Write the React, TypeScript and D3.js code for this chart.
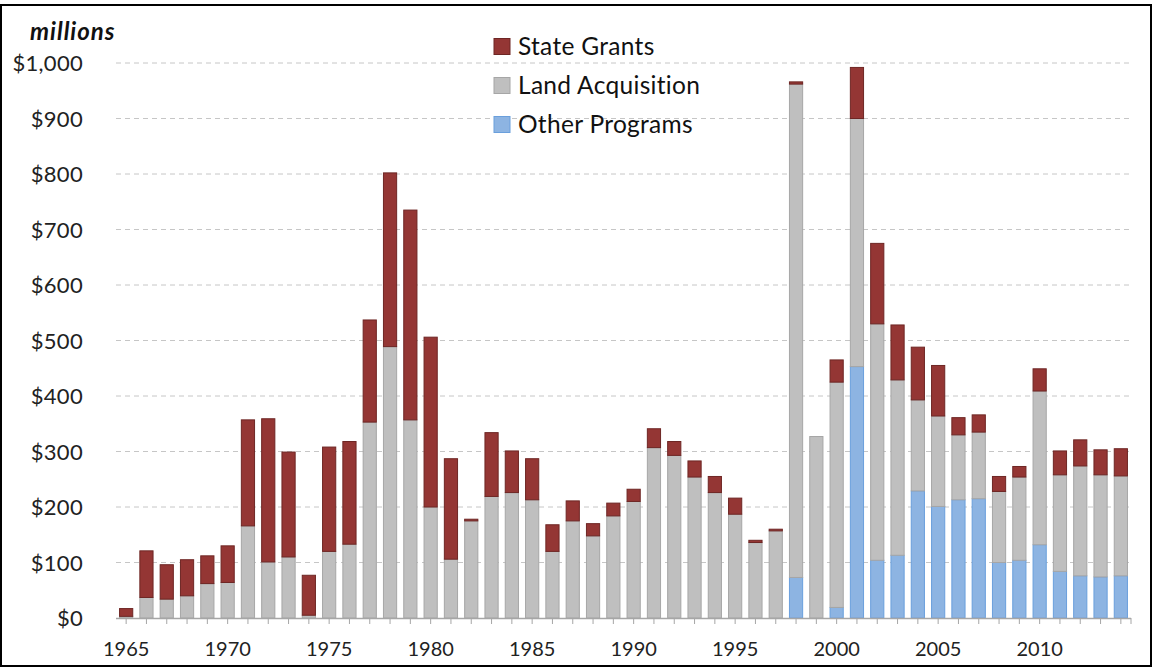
import React from 'react'
import * as d3 from 'd3'

// values in $ millions
const years = d3.range(1965, 2015)

const otherPrograms = [
  0, 0, 0, 0, 0, 0, 0, 0, 0, 0,
  0, 0, 0, 0, 0, 0, 0, 0, 0, 0,
  0, 0, 0, 0, 0, 0, 0, 0, 0, 0,
  0, 0, 0, 73, 0, 19, 453, 104, 113, 229,
  201, 213, 215, 100, 104, 132, 84, 76, 74, 76,
]

const landAcquisition = [
  3, 37, 34, 40, 62, 64, 166, 101, 110, 5,
  120, 133, 353, 489, 357, 200, 106, 175, 219, 226,
  213, 120, 175, 148, 184, 210, 307, 293, 254, 226,
  187, 136, 157, 889, 327, 406, 447, 426, 316, 164,
  163, 117, 120, 128, 150, 277, 174, 198, 184, 180,
]

const stateGrants = [
  14, 84, 62, 65, 50, 66, 191, 258, 189, 72,
  188, 185, 184, 313, 378, 306, 181, 3, 115, 75,
  74, 48, 36, 22, 23, 22, 34, 25, 29, 29,
  29, 4, 3, 4, 0, 40, 92, 145, 99, 95,
  91, 31, 31, 27, 19, 40, 43, 47, 45, 49,
]

const seriesNames = ['Other Programs', 'Land Acquisition', 'State Grants']
const yTicks = [0, 100, 200, 300, 400, 500, 600, 700, 800, 900, 1000]
const xLabels = [1965, 1970, 1975, 1980, 1985, 1990, 1995, 2000, 2005, 2010]

const fills = { 'Other Programs': '#8db4e2', 'Land Acquisition': '#bfbfbf', 'State Grants': '#943634' }
const strokes = { 'Other Programs': '#6a9fdc', 'Land Acquisition': '#a6a6a6', 'State Grants': '#6e2624' }

const font = 'Lato, "Open Sans", sans-serif'

export default function App() {
  const W = 1153, H = 668

  const rows = years.map((yr, i) => ({
    year: yr,
    'Other Programs': otherPrograms[i],
    'Land Acquisition': landAcquisition[i],
    'State Grants': stateGrants[i],
  }))

  const stacked = d3.stack().keys(seriesNames)(rows as any)

  const x = d3.scaleBand<number>()
    .domain(years)
    .range([116, 1131])
    .paddingInner(0.35)
    .paddingOuter(0.175)

  const y = d3.scaleLinear().domain([0, 1000]).range([618, 63])
  const fmt = d3.format('$,')

  // legend order top to bottom
  const legend = ['State Grants', 'Land Acquisition', 'Other Programs']

  return (
    <svg width={W} height={H} style={{ position: 'absolute', left: 0, top: 0, background: '#fff' }}
      fontFamily={font}>
      <rect x={0} y={0} width={W} height={H} fill="#fff" />

      {/* gridlines */}
      {yTicks.filter(t => t > 0).map(t => (
        <line key={t} x1={116} x2={1131} y1={y(t)} y2={y(t)}
          stroke="#c6c6c6" strokeWidth={1} strokeDasharray="5,4" />
      ))}

      {/* y labels */}
      {yTicks.map(t => (
        <text key={t} x={83} y={y(t) + 8} textAnchor="end" fontSize={22} fill="#222" letterSpacing={0.3}>
          {fmt(t)}
        </text>
      ))}
      <text x={30} y={40} fontSize={24} fontWeight="bold" fontStyle="italic" fill="#111" letterSpacing={1}>millions</text>

      {/* bars */}
      {stacked.map(s => (
        <g key={s.key}>
          {s.map((d, i) => {
            const h = y(d[0]) - y(d[1])
            if (h <= 0) return null
            return (
              <rect key={i} x={x(years[i])} y={y(d[1])} width={x.bandwidth()} height={h}
                fill={fills[s.key]} stroke={strokes[s.key]} strokeWidth={1} />
            )
          })}
        </g>
      ))}

      {/* x axis */}
      <line x1={116} x2={1131} y1={618.5} y2={618.5} stroke="#a6a6a6" strokeWidth={1.5} />
      {years.map(yr => (
        <line key={yr} x1={x(yr)! + x.bandwidth() / 2} x2={x(yr)! + x.bandwidth() / 2}
          y1={618} y2={624} stroke="#a6a6a6" strokeWidth={1} />
      ))}
      <line x1={1131} x2={1131} y1={618} y2={624} stroke="#a6a6a6" strokeWidth={1} />
      {xLabels.map(yr => (
        <text key={yr} x={x(yr)! + x.bandwidth() / 2} y={656} textAnchor="middle" fontSize={20} fill="#222">
          {yr}
        </text>
      ))}

      {/* legend */}
      {legend.map((name, i) => (
        <g key={name} transform={`translate(494, ${46.5 + i * 39})`}>
          <rect x={0} y={-8} width={16} height={16} fill={fills[name]} stroke={strokes[name]} strokeWidth={1} />
          <text x={24} y={8.5} fontSize={24.5} fill="#111" letterSpacing={0.3}>{name}</text>
        </g>
      ))}

      {/* frame */}
      <rect x={1} y={5} width={W - 3} height={H - 7} fill="none" stroke="#000" strokeWidth={2} />
    </svg>
  )
}
